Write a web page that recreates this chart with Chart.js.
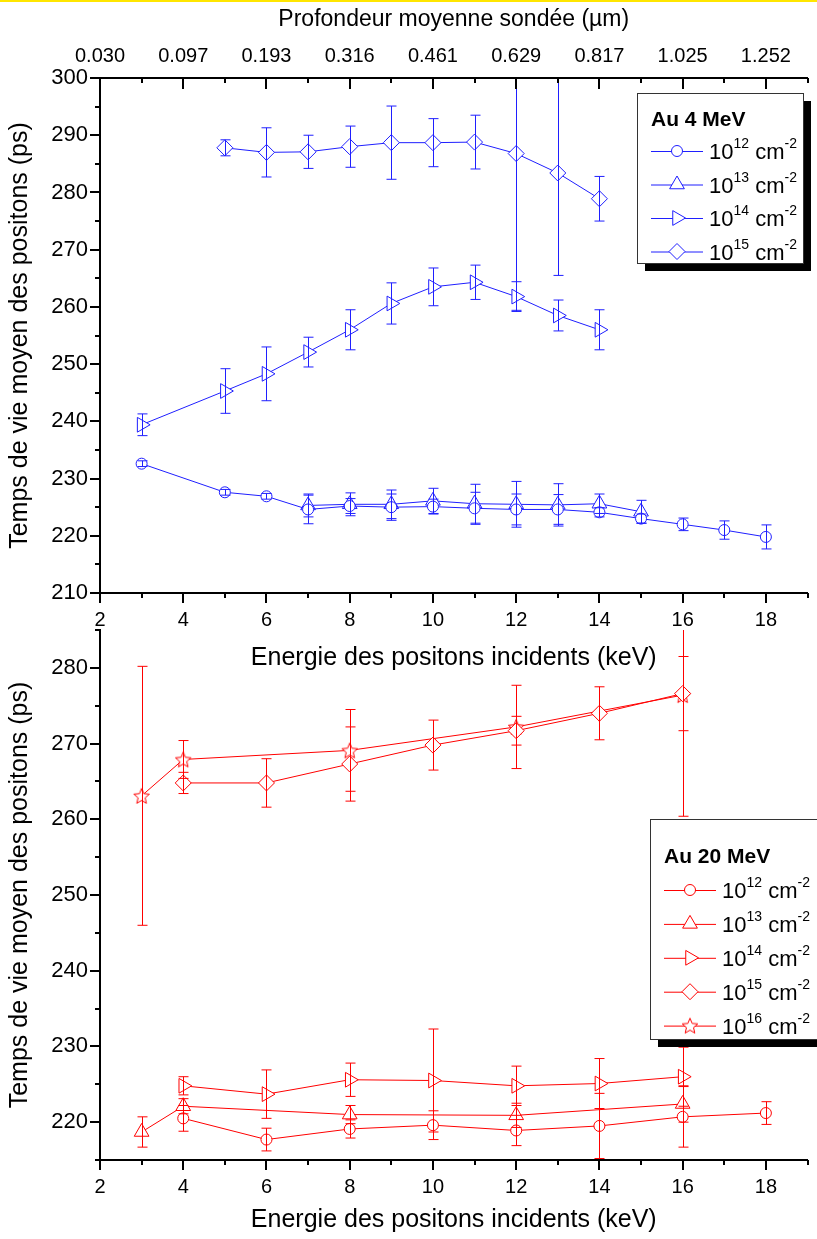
<!DOCTYPE html>
<html lang="fr">
<head>
<meta charset="utf-8">
<title>Temps de vie moyen des positons</title>
<script src="https://cdn.jsdelivr.net/npm/chart.js@4.4.1/dist/chart.umd.min.js"></script>
<style>
  html, body { margin: 0; padding: 0; background: #fff; }
  #wrap { position: relative; width: 817px; height: 1239px; overflow: hidden; }
  #topline { position: absolute; left: 0; top: 0; width: 817px; height: 2px; background: #ffe600; }
  canvas { position: absolute; left: 0; }
  #au4 { top: 0; }
  #au20 { top: 560px; }
</style>
</head>
<body>
<div id="wrap">
  <canvas id="au4" width="817" height="700"></canvas>
  <canvas id="au20" width="817" height="679"></canvas>
  <div id="topline"></div>
</div>
<script>
// axes: energy ticks (keV) and matching mean probed depth (µm)
const energyTicks = [2, 4, 6, 8, 10, 12, 14, 16, 18];
const energyMinor = [3, 5, 7, 9, 11, 13, 15, 17, 19];
const depthLabels = ['0.030', '0.097', '0.193', '0.316', '0.461', '0.629', '0.817', '1.025', '1.252'];

const au4Major = [210, 220, 230, 240, 250, 260, 270, 280, 290, 300];
const au4Minor = [215, 225, 235, 245, 255, 265, 275, 285, 295];
const au20Major = [220, 230, 240, 250, 260, 270, 280];
const au20Minor = [215, 225, 235, 245, 255, 265, 275, 285];

// Au 4 MeV : energy (keV), lifetime (ps), error (ps)
const au4E12 = [3, 5, 6, 7, 8, 9, 10, 11, 12, 13, 14, 15, 16, 17, 18];
const au4Tau12 = [232.6, 227.6, 226.9, 224.6, 225.2, 225.0, 225.1, 224.8, 224.6, 224.6, 224.1, 223.0, 222.0, 221.0, 219.8];
const au4Err12 = [0.5, 0.5, 0.5, 2.5, 1.3, 2.3, 1.3, 2.8, 2.7, 2.6, 0.8, 0.8, 1.1, 1.6, 2.1];

const au4E13 = [7, 8, 9, 10, 11, 12, 13, 14, 15];
const au4Tau13 = [225.3, 225.5, 225.5, 226.1, 225.6, 225.5, 225.4, 225.6, 224.2];
const au4Err13 = [2.0, 2.0, 2.5, 2.2, 3.4, 4.0, 3.7, 1.7, 2.0];

const au4E14 = [3, 5, 6, 7, 8, 9, 10, 11, 12, 13, 14];
const au4Tau14 = [239.4, 245.3, 248.3, 252.1, 256.0, 260.6, 263.5, 264.3, 261.8, 258.5, 256.0];
const au4Err14 = [1.9, 3.9, 4.7, 2.6, 3.5, 3.6, 3.3, 3.0, 2.6, 2.7, 3.5];

const au4E15 = [5, 6, 7, 8, 9, 10, 11, 12, 13, 14];
const au4Tau15 = [287.8, 287.0, 287.1, 288.0, 288.7, 288.7, 288.8, 286.8, 283.4, 278.9];
const au4Err15 = [1.4, 4.3, 2.9, 3.6, 6.4, 4.2, 4.7, 27.4, 17.9, 3.9];

// Au 20 MeV
const au20E12 = [4, 6, 8, 10, 12, 14, 16, 18];
const au20Tau12 = [220.5, 217.7, 219.1, 219.6, 218.9, 219.5, 220.7, 221.2];
const au20Err12 = [1.7, 1.5, 1.2, 1.9, 2.0, 4.3, 4.0, 1.5];

const au20E13 = [3, 4, 8, 12, 16];
const au20Tau13 = [218.7, 222.1, 221.0, 220.9, 222.4];
const au20Err13 = [2.0, 1.0, 1.2, 1.6, 2.4];

const au20E14 = [4, 6, 8, 10, 12, 14, 16];
const au20Tau14 = [224.8, 223.7, 225.6, 225.5, 224.8, 225.1, 226.0];
const au20Err14 = [1.2, 3.2, 2.2, 6.8, 2.6, 3.3, 3.9];

const au20E15 = [4, 6, 8, 10, 12, 14, 16];
const au20Tau15 = [264.8, 264.8, 267.3, 269.8, 271.7, 274.0, 276.6];
const au20Err15 = [1.4, 3.2, 4.9, 3.3, 1.9, 3.5, 4.9];

const au20E16 = [3, 4, 8, 12, 16];
const au20Tau16 = [263.1, 267.9, 269.1, 272.2, 276.4];
const au20Err16 = [17.1, 2.5, 5.4, 5.5, 16.0];

const FONT = '"Liberation Sans", Arial, Helvetica, sans-serif';
const BLUE = '#1f1fff';
const RED = '#ff0000';

Chart.defaults.font.family = FONT;
Chart.defaults.color = '#000';

// hollow five-branch star used for the 10^16 series
function starImage(color) {
  const c = document.createElement('canvas');
  c.width = 20; c.height = 20;
  const g = c.getContext('2d');
  g.beginPath();
  for (let k = 0; k < 10; k++) {
    const r = k % 2 ? 3.7 : 8.2;
    const a = -Math.PI / 2 + k * Math.PI / 5;
    const px = 10 + r * Math.cos(a), py = 10.8 + r * Math.sin(a);
    if (k) g.lineTo(px, py); else g.moveTo(px, py);
  }
  g.closePath();
  g.fillStyle = '#fff';
  g.fill();
  g.strokeStyle = color;
  g.lineWidth = 1;
  g.stroke();
  return c;
}

const marker = {
  12: { pointStyle: 'circle', radius: 5.5, rotation: 0 },
  13: { pointStyle: 'triangle', radius: 8.5, rotation: 0 },
  14: { pointStyle: 'triangle', radius: 8.5, rotation: 90 },
  15: { pointStyle: 'rectRot', radius: 8, rotation: 0 },
  16: { pointStyle: starImage(RED), radius: 8, rotation: 0 }
};

function series(dose, xs, ys, errs, color) {
  const m = marker[dose];
  return {
    label: '10^' + dose + ' cm^-2',
    dose: dose,
    data: xs.map((x, i) => ({ x: x, y: ys[i] })),
    errors: errs,
    showLine: true,
    borderColor: color,
    borderWidth: 1,
    tension: 0,
    pointStyle: m.pointStyle,
    pointRadius: m.radius,
    pointRotation: m.rotation,
    pointBorderColor: color,
    pointBackgroundColor: '#fff',
    pointBorderWidth: 1
  };
}

// vertical error bars with caps, drawn on top of the markers
const errorBars = {
  id: 'errorBars',
  afterDatasetsDraw(chart) {
    const { ctx, chartArea: a, scales } = chart;
    ctx.save();
    ctx.beginPath();
    ctx.rect(a.left, a.top, a.right - a.left, a.bottom - a.top);
    ctx.clip();
    ctx.lineWidth = 1;
    chart.data.datasets.forEach(ds => {
      ctx.strokeStyle = ds.borderColor;
      ds.data.forEach((p, j) => {
        const e = ds.errors[j];
        const px = Math.round(scales.x.getPixelForValue(p.x)) + 0.5;
        const hi = scales.y.getPixelForValue(p.y + e);
        const lo = scales.y.getPixelForValue(p.y - e);
        ctx.beginPath();
        ctx.moveTo(px, hi); ctx.lineTo(px, lo);
        ctx.moveTo(px - 5, hi); ctx.lineTo(px + 5, hi);
        ctx.moveTo(px - 5, lo); ctx.lineTo(px + 5, lo);
        ctx.stroke();
      });
    });
    ctx.restore();
  }
};

// major/minor tick marks: outward on bottom/left, inward on top
function tickMarks(marks) {
  return {
    id: 'tickMarks',
    afterDraw(chart) {
      const { ctx, chartArea: a, scales } = chart;
      ctx.save();
      ctx.strokeStyle = '#000';
      ctx.lineWidth = 2;
      marks.forEach(m => {
        const s = scales[m.axis];
        m.values.forEach(v => {
          const p = Math.round(s.getPixelForValue(v));
          ctx.beginPath();
          if (m.side === 'bottom') { ctx.moveTo(p, a.bottom); ctx.lineTo(p, a.bottom + m.len); }
          else if (m.side === 'top') { ctx.moveTo(p, a.top); ctx.lineTo(p, a.top + m.len); }
          else { ctx.moveTo(a.left - m.len, p); ctx.lineTo(a.left, p); }
          ctx.stroke();
        });
      });
      ctx.restore();
    }
  };
}

// boxed legend with drop shadow and superscript doses
function boxLegend(cfg) {
  return {
    id: 'boxLegend',
    afterDraw(chart) {
      const ctx = chart.ctx;
      const { x, y, w, h } = cfg;
      ctx.save();
      ctx.fillStyle = '#000';
      ctx.fillRect(x + 8, y + 8, w, h);
      ctx.fillStyle = '#fff';
      ctx.fillRect(x, y, w, h);
      ctx.strokeStyle = '#333';
      ctx.lineWidth = 1;
      ctx.strokeRect(x + 0.5, y + 0.5, w, h);

      ctx.fillStyle = '#000';
      ctx.textBaseline = 'alphabetic';
      ctx.font = 'bold 21px ' + FONT;
      ctx.fillText(cfg.title, x + 14, cfg.titleY + 7.5);

      chart.data.datasets.forEach((ds, i) => {
        const cy = cfg.rowY + i * cfg.rowGap;
        ctx.strokeStyle = ds.borderColor;
        ctx.lineWidth = 1;
        ctx.beginPath();
        ctx.moveTo(x + 14, cy + 0.5); ctx.lineTo(x + 66, cy + 0.5);
        ctx.stroke();
        ctx.fillStyle = '#fff';
        Chart.helpers.drawPoint(ctx, {
          pointStyle: ds.pointStyle, radius: ds.pointRadius,
          rotation: ds.pointRotation, borderWidth: 1
        }, x + 40, cy);

        ctx.fillStyle = '#000';
        let tx = x + 72;
        const base = cy + 8;
        ctx.font = '22px ' + FONT;
        ctx.fillText('10', tx, base); tx += ctx.measureText('10').width;
        ctx.font = '14px ' + FONT;
        ctx.fillText(String(ds.dose), tx, base - 11); tx += ctx.measureText(String(ds.dose)).width;
        ctx.font = '22px ' + FONT;
        ctx.fillText(' cm', tx, base); tx += ctx.measureText(' cm').width;
        ctx.font = '14px ' + FONT;
        ctx.fillText('-2', tx, base - 11);
      });
      ctx.restore();
    }
  };
}

function energyAxis(height, titlePad) {
  return {
    type: 'linear', position: 'bottom', min: 2, max: 19,
    afterBuildTicks: s => { s.ticks = energyTicks.map(v => ({ value: v })); },
    afterFit: s => { s.height = height; },
    grid: { display: false, drawTicks: false },
    border: { display: true, color: '#000', width: 2 },
    ticks: { font: { size: 20 }, padding: 15, maxRotation: 0, autoSkip: false },
    title: { display: true, text: 'Energie des positons incidents (keV)', font: { size: 25 }, padding: { top: 0, bottom: titlePad } }
  };
}

function lifetimeAxis(min, max, labels) {
  return {
    type: 'linear', position: 'left', min: min, max: max,
    afterBuildTicks: s => { s.ticks = labels.map(v => ({ value: v })); },
    afterFit: s => { s.width = 100; },
    grid: { display: false, drawTicks: false },
    border: { display: true, color: '#000', width: 2 },
    ticks: { font: { size: 22 }, padding: 12, autoSkip: false },
    title: { display: true, text: 'Temps de vie moyen des positons (ps)', font: { size: 25 }, padding: { top: 5, bottom: 0 } }
  };
}

const common = {
  responsive: false,
  animation: false,
  devicePixelRatio: 1,
  events: [],
  plugins: { legend: { display: false }, tooltip: { enabled: false } }
};

new Chart('au4', {
  type: 'scatter',
  data: {
    datasets: [
      series(12, au4E12, au4Tau12, au4Err12, BLUE),
      series(13, au4E13, au4Tau13, au4Err13, BLUE),
      series(14, au4E14, au4Tau14, au4Err14, BLUE),
      series(15, au4E15, au4Tau15, au4Err15, BLUE)
    ]
  },
  options: Object.assign({}, common, {
    layout: { padding: { top: 0, right: 7, bottom: 0, left: 0 } },
    scales: {
      x: energyAxis(107, 27),
      x2: {
        type: 'linear', position: 'top', min: 2, max: 19,
        afterBuildTicks: s => { s.ticks = energyTicks.map(v => ({ value: v })); },
        afterFit: s => { s.height = 78; },
        grid: { display: false, drawTicks: false },
        border: { display: true, color: '#000', width: 2 },
        ticks: { font: { size: 20 }, padding: 10, maxRotation: 0, autoSkip: false,
          callback: (v, i) => depthLabels[i] },
        title: { display: true, text: 'Profondeur moyenne sondée (µm)', font: { size: 23 }, padding: { top: 6, bottom: 0 } }
      },
      y: lifetimeAxis(210, 300, au4Major)
    }
  }),
  plugins: [
    errorBars,
    tickMarks([
      { axis: 'x', side: 'bottom', values: energyTicks, len: 10 },
      { axis: 'x', side: 'bottom', values: energyMinor, len: 5 },
      { axis: 'x2', side: 'top', values: energyTicks, len: 11 },
      { axis: 'x2', side: 'top', values: energyMinor, len: 5 },
      { axis: 'y', side: 'left', values: au4Major, len: 10 },
      { axis: 'y', side: 'left', values: au4Minor, len: 5 }
    ]),
    boxLegend({ title: 'Au 4 MeV', x: 637, y: 93, w: 166, h: 170, titleY: 118, rowY: 151, rowGap: 33.5 })
  ]
});

new Chart('au20', {
  type: 'scatter',
  data: {
    datasets: [
      series(12, au20E12, au20Tau12, au20Err12, RED),
      series(13, au20E13, au20Tau13, au20Err13, RED),
      series(14, au20E14, au20Tau14, au20Err14, RED),
      series(15, au20E15, au20Tau15, au20Err15, RED),
      series(16, au20E16, au20Tau16, au20Err16, RED)
    ]
  },
  options: Object.assign({}, common, {
    layout: { padding: { top: 70, right: 7, bottom: 0, left: 0 } },
    scales: {
      x: energyAxis(79, 4),
      y: lifetimeAxis(215, 285, au20Major)
    }
  }),
  plugins: [
    errorBars,
    tickMarks([
      { axis: 'x', side: 'bottom', values: energyTicks, len: 10 },
      { axis: 'x', side: 'bottom', values: energyMinor, len: 5 },
      { axis: 'y', side: 'left', values: au20Major, len: 10 },
      { axis: 'y', side: 'left', values: au20Minor, len: 5 }
    ]),
    boxLegend({ title: 'Au 20 MeV', x: 650, y: 259, w: 180, h: 220, titleY: 295, rowY: 330, rowGap: 33.9 })
  ]
});
</script>
</body>
</html>
